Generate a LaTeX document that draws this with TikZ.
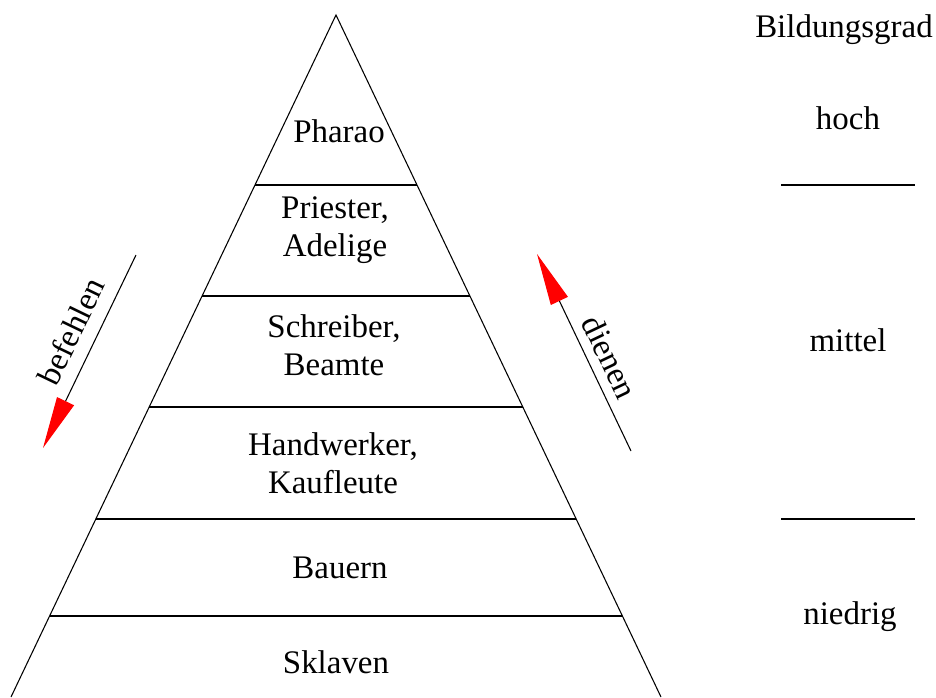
\documentclass[tikz,border=0pt]{standalone}
\usepackage{fontspec}
\setmainfont{Liberation Serif}
\usetikzlibrary{calc,arrows.meta}
\begin{document}
\begin{tikzpicture}[x=0.75pt,y=-0.75pt,
  lbl/.style={font=\fontsize{24.7}{28}\selectfont, inner sep=0pt, anchor=base, align=center},
  edge/.style={line width=0.8pt},
  redarrow/.style={line width=0.8pt, -{Triangle[length=39pt,width=14pt,color=red,fill=red]}}]
\useasboundingbox (0,0) rectangle (936,697);
% pyramid
\coordinate (apex) at (336,15);
\coordinate (bl) at (11,697);
\coordinate (br) at (661,697);
\draw[edge] (bl) -- (apex) -- (br);
\foreach \y/\n in {185/a,296/b,407/c,519/d,616/e}{
  \pgfmathsetmacro{\t}{(\y-15)/682}
  \coordinate (L\n) at ($(apex)!\t!(bl)$);
  \coordinate (R\n) at ($(apex)!\t!(br)$);
  \draw[edge] (L\n) -- (R\n);
}
% labels (anchor base = baseline of last line)
\node[lbl] (pharao) at (339,142) {Pharao};
\node[lbl] (priester) at (335,256) {Priester,\\Adelige};
\node[lbl] (schreiber) at (334,375) {Schreiber,\\Beamte};
\node[lbl] (handwerker) at (333,493) {Handwerker,\\Kaufleute};
\node[lbl] (bauern) at (340,578) {Bauern};
\node[lbl] (sklaven) at (336,673) {Sklaven};
% arrows
\coordinate (bs) at (136,255);
\coordinate (be) at (43,448);
\draw[redarrow] (bs) -- (be);
\node[lbl, anchor=center, rotate=64.3] (befehlen) at (71,331) {befehlen};
\coordinate (ds) at (631,451);
\coordinate (de) at (537,254);
\draw[redarrow] (ds) -- (de);
\node[lbl, anchor=center, rotate=-64.5] (dienen) at (610,357) {dienen};
% right column
\node[lbl] (bildung) at (844,37) {Bildungsgrad};
\node[lbl] (hoch) at (848,129) {hoch};
\coordinate (h1) at (781,185);
\coordinate (h2) at (915,185);
\draw[edge] (h1) -- (h2);
\node[lbl] (mittel) at (848,351) {mittel};
\coordinate (n1) at (781,519);
\coordinate (n2) at (915,519);
\draw[edge] (n1) -- (n2);
\node[lbl] (niedrig) at (850,624) {niedrig};
\end{tikzpicture}
\end{document}
